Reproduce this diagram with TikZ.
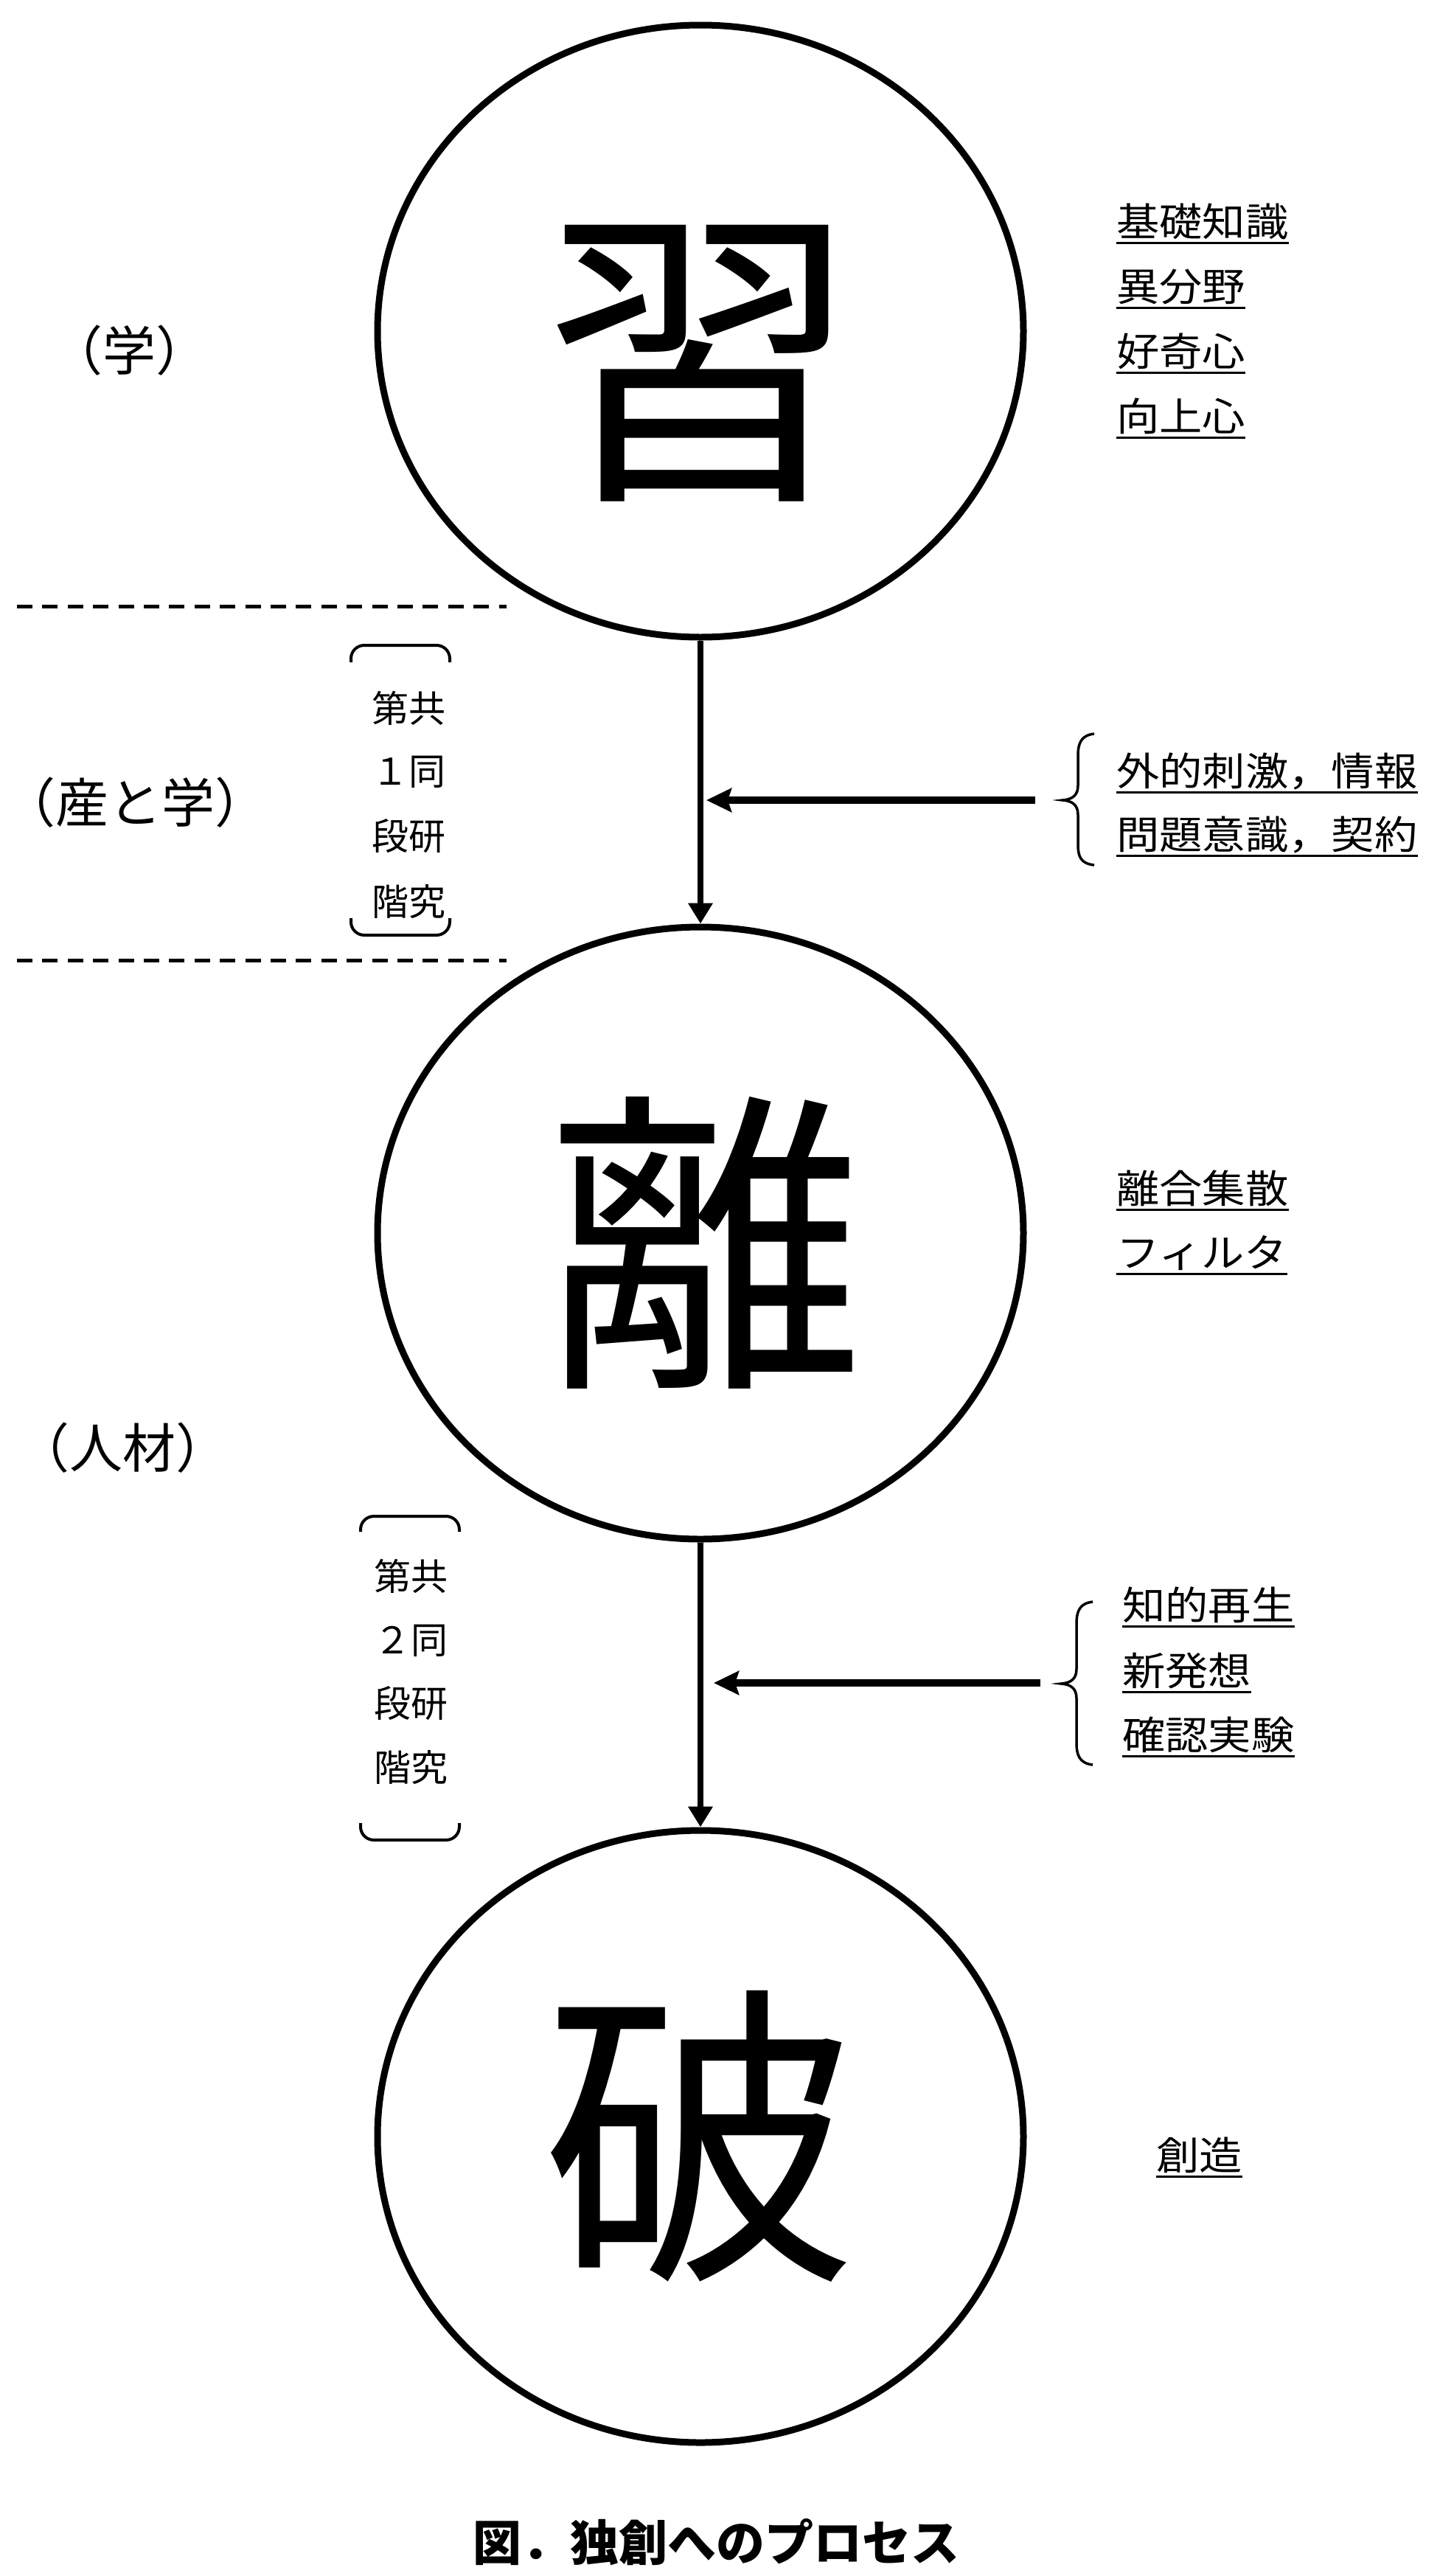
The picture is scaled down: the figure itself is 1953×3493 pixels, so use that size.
\documentclass[tikz,border=0pt]{standalone}
\usepackage{fontspec}
\newfontfamily\jp{Noto Sans CJK JP}
\newfontfamily\jpw[FakeStretch=1.1]{Noto Sans CJK JP}
\usetikzlibrary{arrows.meta,shapes.geometric}
\newcommand\ulnode[3]{\node[rtext] (#1) at #2 {#3};
  \draw[ul] ([yshift=-3pt]#1.south west) -- ([yshift=-3pt]#1.south east);}
\begin{document}
\begin{tikzpicture}[x=1pt,y=-1pt,
  circ/.style={draw, ellipse, line width=9pt, minimum width=876pt, minimum height=830pt, inner sep=0pt},
  big/.style={inner sep=0pt, font=\jp\fontsize{430}{430}\selectfont, text height=378pt, text depth=52pt},
  rtext/.style={anchor=west, inner sep=0pt, font=\jpw\fontsize{53}{60}\selectfont, text height=46.6pt, text depth=6.4pt},
  ul/.style={line width=3pt},
  ltext/.style={inner sep=0pt, font=\jp\fontsize{72}{80}\selectfont, text height=63.4pt, text depth=8.6pt},
  ctext/.style={inner sep=0pt, font=\jp\fontsize{50}{56}\selectfont, text height=44pt, text depth=6pt},
  vconn/.style={line width=8pt, -{Triangle[length=28pt,width=32pt]}},
  hconn/.style={line width=10pt, -{Stealth[length=34pt,width=32pt,inset=5pt]}},
  dashline/.style={line width=5pt, dash pattern=on 21pt off 13.4pt},
  brk/.style={line width=4pt, rounded corners=18pt},
  brc/.style={line width=3.5pt},
  capt/.style={inner sep=0pt, font=\jp\bfseries\fontsize{66}{70}\selectfont, text height=58pt, text depth=8pt}]
\fill[white] (0,0) rectangle (1953,3493);
\useasboundingbox (0,0) rectangle (1953,3493);

% circles
\node[circ] (c1) at (950,449) {};
\node[circ] (c2) at (950,1672) {};
\node[circ] (c3) at (950,2897) {};
\node[big] (k1) at (950,481) {習};
\node[big] (k2) at (957,1685) {離};
\node[big] (k3) at (950,2897) {破};

% vertical connectors
\draw[vconn] (c1.south) -- (c2.north);
\draw[vconn] (c2.south) -- (c3.north);

% dashed separators
\coordinate (d1a) at (23,822); \coordinate (d1b) at (687,822);
\coordinate (d2a) at (23,1302); \coordinate (d2b) at (687,1302);
\draw[dashline] (d1a) -- (d1b);
\draw[dashline] (d2a) -- (d2b);

% left labels
\node[ltext] (l1) at (175,475) {（学）};
\node[ltext] (l2) at (184,1088) {（産と学）};
\node[ltext] (l3) at (166,1963) {（人材）};

% column labels 1
\draw[brk] (476,898) -- (476,875) -- (610,875) -- (610,898);
\draw[brk] (476,1245) -- (476,1268) -- (610,1268) -- (610,1245);
\node[ctext] (p1a) at (554,960) {第共};
\node[ctext] (p1b) at (554,1045) {１同};
\node[ctext] (p1c) at (554,1133) {段研};
\node[ctext] (p1d) at (554,1222) {階究};

% column labels 2
\draw[brk] (489,2077) -- (489,2056) -- (623,2056) -- (623,2077);
\draw[brk] (489,2472) -- (489,2495) -- (623,2495) -- (623,2472);
\node[ctext] (p2a) at (557,2137) {第共};
\node[ctext] (p2b) at (557,2223) {２同};
\node[ctext] (p2c) at (557,2309) {段研};
\node[ctext] (p2d) at (557,2396) {階究};

% right texts
\ulnode{r1a}{(1514,300)}{基礎知識}
\ulnode{r1b}{(1514,388)}{異分野}
\ulnode{r1c}{(1514,476)}{好奇心}
\ulnode{r1d}{(1514,564)}{向上心}
\ulnode{r2a}{(1514,1045)}{外的刺激，情報}
\ulnode{r2b}{(1514,1131)}{問題意識，契約}
\ulnode{r3a}{(1514,1611)}{離合集散}
\ulnode{r3b}{(1514,1698)}{フィルタ}
\ulnode{r4a}{(1522,2176)}{知的再生}
\ulnode{r4b}{(1522,2265)}{新発想}
\ulnode{r4c}{(1522,2352)}{確認実験}
\ulnode{r5}{(1568,2922)}{創造}

% braces
\draw[brc] (1484,995) .. controls (1466,997) and (1462,1008) .. (1462,1025) -- (1462,1065)
  .. controls (1462,1078) and (1455,1084) .. (1441,1085)
  .. controls (1455,1086) and (1462,1092) .. (1462,1105) -- (1462,1145)
  .. controls (1462,1162) and (1466,1171) .. (1484,1173);
\draw[brc] (1482,2172) .. controls (1464,2174) and (1460,2185) .. (1460,2202) -- (1460,2263)
  .. controls (1460,2276) and (1453,2282) .. (1439,2283)
  .. controls (1453,2284) and (1460,2290) .. (1460,2303) -- (1460,2363)
  .. controls (1460,2380) and (1464,2391) .. (1482,2393);

% horizontal connectors
\coordinate (s1) at (1404,1085); \coordinate (j1) at (958,1085);
\coordinate (s2) at (1411,2282); \coordinate (j2) at (968,2282);
\draw[hconn] (s1) -- (j1);
\draw[hconn] (s2) -- (j2);

% caption
\node[capt] (cap) at (971,3447) {図．独創へのプロセス};
\end{tikzpicture}
\end{document}
